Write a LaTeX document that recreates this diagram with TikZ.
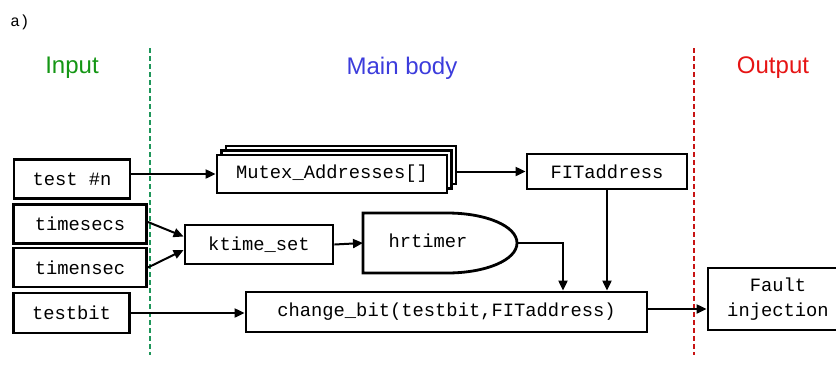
\documentclass[tikz,border=0pt]{standalone}
\usepackage{fontspec}
\setmainfont{Liberation Sans}
\newfontfamily\codefont{Liberation Mono}
\usetikzlibrary{arrows.meta,shadows}
\definecolor{ingreen}{RGB}{20,150,20}
\definecolor{sepgreen}{RGB}{30,150,90}
\definecolor{mainblue}{RGB}{60,60,220}
\definecolor{outred}{RGB}{230,20,20}
\definecolor{sepred}{RGB}{200,20,20}

\begin{document}
\begin{tikzpicture}[x=1pt, y=-1pt,
	box/.style={draw=black, line width=2.8pt, fill=white, rectangle, inner sep=0pt,
		font=\codefont\fontsize{18.8}{25}\selectfont},
	arr/.style={line width=2pt, -{Triangle[length=10pt,width=9pt]}},
	title/.style={font=\fontsize{24}{28}\selectfont},
	sep/.style={line width=2pt, dash pattern=on 5pt off 3pt},
	every shadow/.style={draw=black, line width=2.8pt, fill=white}]
	\useasboundingbox (0,0) rectangle (836,368);
	% Ueberschriften
	\node (lbl) at (20,22) {\codefont\fontsize{16}{18}\selectfont a)};
	\node[title, text=ingreen] (tin) at (72,68) {Input};
	\node[title, text=mainblue] (tmain) at (402,68) {Main body};
	\node[title, text=outred] (tout) at (773,68) {Output};
	% Trennlinien
	\draw[sep, sepgreen] (150,48) -- (150,355);
	\draw[sep, sepred] (694,48) -- (694,355);
	% Eingaenge
	\node[box, minimum width=116, minimum height=39] (testn) at (72,179) {test \#n};
	\node[box, minimum width=133, minimum height=39] (secs) at (80,224) {timesecs};
	\node[box, minimum width=133, minimum height=39] (nsec) at (80,267.5) {timensec};
	\node[box, minimum width=116, minimum height=40] (tbit) at (71.5,313) {testbit};
	% Hauptteil
	\node[box, minimum width=230, minimum height=38,
		double copy shadow={shadow xshift=4.5pt, shadow yshift=4.5pt}] (mutex) at (332,174) {Mutex\_Addresses[]};
	\node[box, minimum width=160, minimum height=35] (fit) at (607,171.5) {FITaddress};
	\node[box, minimum width=148, minimum height=39] (ktime) at (259,244.5) {ktime\_set};
	\draw[line width=2.8pt, fill=white] (363,213) -- (447,213)
		.. controls (486,213) and (517,226) .. (517,243)
		.. controls (517,260) and (486,273) .. (447,273) -- (363,273) -- cycle;
	\node[font=\codefont\fontsize{18.8}{25}\selectfont] (hrtimer) at (428,241) {hrtimer};
	\coordinate (hrin) at (363,243);
	\coordinate (hrout) at (517,243);
	\node[box, minimum width=401, minimum height=40] (change) at (446.5,312) {change\_bit(testbit,FITaddress)};
	% Ausgang
	\node[box, minimum width=140, minimum height=62, align=center] (fault) at (778,299) {Fault\\injection};
	% Verbindungen
	\draw[arr] (mutex.west -| testn.east) -- (mutex.west);
	\draw[arr] ([xshift=7pt]fit.west -| mutex.east) -- (fit.west);
	\draw[arr] ([yshift=2pt]secs.east) -- ([yshift=8pt]ktime.west);
	\draw[arr] (nsec.east) -- ([yshift=-5.5pt]ktime.west);
	\draw[arr] (ktime.east) -- (hrin);
	\draw[arr] (hrout) -| ([xshift=116.5pt]change.north);
	\draw[arr] (fit.south) -- (fit.south |- change.north);
	\draw[arr] (tbit.east) -- (tbit.east -| change.west);
	\draw[arr] ([yshift=3pt]change.east) -- ([yshift=3pt]change.east -| fault.west);
\end{tikzpicture}
\end{document}
